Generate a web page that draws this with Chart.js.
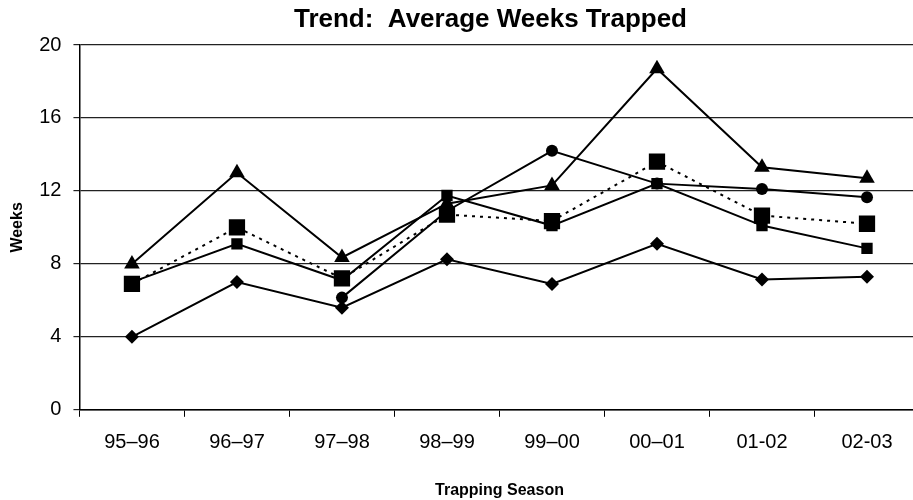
<!DOCTYPE html>
<html>
<head>
<meta charset="utf-8">
<script src="https://cdn.jsdelivr.net/npm/chart.js@4/dist/chart.umd.min.js"></script>
<style>
  html, body { margin: 0; padding: 0; background: #fff; overflow: hidden; }
  #wrap { width: 931px; height: 500px; }
</style>
</head>
<body>
<div id="wrap"><canvas id="c" width="931" height="500"></canvas></div>
<script>
const seasons = ['95–96', '96–97', '97–98', '98–99', '99–00', '00–01', '01-02', '02-03'];
const yTicks = [0, 4, 8, 12, 16, 20];
const diamondSeries = [4.0, 7.0, 5.6, 8.25, 6.9, 9.1, 7.15, 7.3];
const triangleSeries = [8.0, 13.0, 8.35, 11.3, 12.3, 18.7, 13.3, 12.7];
const circleSeries = [null, null, 6.15, 10.9, 14.2, 12.4, 12.1, 11.65];
const smallSquareSeries = [7.0, 9.1, 7.1, 11.75, 10.1, 12.4, 10.1, 8.85];
const bigSquareSeries = [6.9, 10.0, 7.2, 10.7, 10.35, 13.6, 10.65, 10.2];
const chartTitle = 'Trend:  Average Weeks Trapped';

const FONT = "'Liberation Sans', Arial, sans-serif";

function ds(label, data, style, radius, dashed, order) {
  return {
    label, data,
    borderColor: '#000', backgroundColor: '#000',
    borderWidth: 2,
    borderDash: dashed ? [3, 5] : [],
    pointStyle: style, pointRadius: radius, pointHoverRadius: radius,
    pointBackgroundColor: '#000', pointBorderColor: '#000', pointBorderWidth: 0,
    tension: 0, spanGaps: false, order
  };
}

const titlePlugin = {
  id: 'offsetTitle',
  afterDraw(chart) {
    const ctx = chart.ctx;
    const a = chart.chartArea;
    ctx.save();
    ctx.fillStyle = '#000';
    ctx.font = "bold 26px " + FONT;
    ctx.textAlign = 'center';
    ctx.textBaseline = 'middle';
    ctx.fillText(chartTitle, (a.left + a.right) / 2 - 9, 20);
    ctx.restore();
  }
};

new Chart(document.getElementById('c'), {
  type: 'line',
  data: {
    labels: seasons,
    datasets: [
      ds('Diamond', diamondSeries, 'rectRot', 7, false, 5),
      ds('Triangle', triangleSeries, 'triangle', 9, false, 4),
      ds('Circle', circleSeries, 'circle', 6, false, 3),
      ds('Small square', smallSquareSeries, 'rect', 8, false, 2),
      ds('Big square', bigSquareSeries, 'rect', 11.5, true, 1)
    ]
  },
  plugins: [titlePlugin],
  options: {
    responsive: false,
    animation: false,
    events: [],
    layout: { padding: { left: 2, right: 0, top: 45, bottom: 0 } },
    plugins: {
      legend: { display: false },
      tooltip: { enabled: false },
      title: { display: false }
    },
    scales: {
      x: {
        offset: true,
        grid: { display: true, drawOnChartArea: false, drawTicks: true, tickLength: 7, color: '#000', offset: true },
        border: { display: true, color: '#000', width: 1.5 },
        ticks: { color: '#000', font: { family: FONT, size: 20 }, padding: 14, maxRotation: 0, autoSkip: false },
        title: {
          display: true, text: 'Trapping Season', color: '#000',
          font: { family: FONT, size: 16, weight: 'bold' },
          padding: { top: 12, bottom: 0 }
        }
      },
      y: {
        min: 0, max: 20,
        afterBuildTicks: (axis) => { axis.ticks = yTicks.map(v => ({ value: v })); },
        grid: { color: '#222', lineWidth: 1.2, tickLength: 6, drawTicks: true },
        border: { display: true, color: '#000', width: 1.5 },
        ticks: { color: '#000', font: { family: FONT, size: 20 }, padding: 12 },
        title: {
          display: true, text: 'Weeks', color: '#000',
          font: { family: FONT, size: 16, weight: 'bold' },
          padding: { top: 6, bottom: 0 }
        }
      }
    }
  }
});
</script>
</body>
</html>
